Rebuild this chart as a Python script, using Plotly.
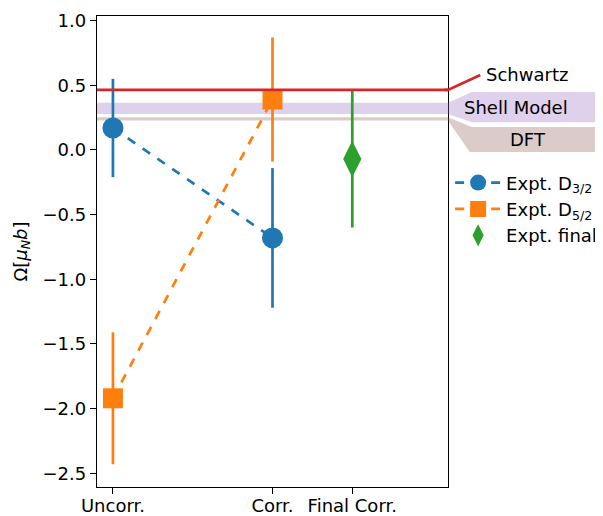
import plotly.graph_objects as go

# ---- data ----
categories = ["Uncorr.", "Corr.", "Final Corr."]
cat_pos = [0, 1, 1.5]

d32_x = [0, 1]
d32_y = [0.17, -0.68]
d32_err = [0.38, 0.54]

d52_x = [0, 1]
d52_y = [-1.92, 0.39]
d52_err = [0.51, 0.48]

final_x = [1.5]
final_y = [-0.07]
final_err = [0.53]

schwartz = 0.464
shell_band = [0.278, 0.366]
dft_band = [0.227, 0.253]

BLUE = "#1f77b4"; ORANGE = "#ff7f0e"; GREEN = "#2ca02c"; RED = "#d62728"
PURPLE_A = "rgba(148,103,189,0.3)"
BROWN_A = "rgba(140,86,75,0.3)"
FONT = "DejaVu Sans"
FS = 18
LW = 2.7

fig = go.Figure()

fig.add_trace(go.Scatter(
    x=d32_x, y=d32_y, mode="lines+markers", name="Expt. D<sub>3/2</sub>",
    line=dict(color=BLUE, width=LW, dash="dash"),
    marker=dict(symbol="circle", size=21, color=BLUE),
    error_y=dict(type="data", array=d32_err, color=BLUE, thickness=LW, width=0)))
fig.add_trace(go.Scatter(
    x=d52_x, y=d52_y, mode="lines+markers", name="Expt. D<sub>5/2</sub>",
    line=dict(color=ORANGE, width=LW, dash="dash"),
    marker=dict(symbol="square", size=20, color=ORANGE),
    error_y=dict(type="data", array=d52_err, color=ORANGE, thickness=LW, width=0)))
fig.add_trace(go.Scatter(
    x=final_x, y=final_y, mode="markers", name="Expt. final",
    marker=dict(symbol="diamond-tall", size=26, color=GREEN),
    error_y=dict(type="data", array=final_err, color=GREEN, thickness=LW, width=0)))

# bands and line inside plot
fig.add_shape(type="rect", xref="paper", yref="y", x0=0, x1=1,
              y0=shell_band[0], y1=shell_band[1], fillcolor=PURPLE_A, line_width=0, layer="below")
fig.add_shape(type="rect", xref="paper", yref="y", x0=0, x1=1,
              y0=dft_band[0], y1=dft_band[1], fillcolor=BROWN_A, line_width=0, layer="below")
fig.add_shape(type="line", xref="paper", yref="y", x0=0, x1=1,
              y0=schwartz, y1=schwartz, line=dict(color=RED, width=LW))

# outside labels (paper x, data y)
xe = 1.0
xb = 1.068
xr = 1.5
fig.add_shape(type="path", xref="paper", yref="y",
              path=f"M 0.99,{schwartz} L {xe},{schwartz} L 1.092,0.58",
              line=dict(color=RED, width=LW))
fig.add_shape(type="path", xref="paper", yref="y",
              path=f"M {xe},{shell_band[1]} L {xb},0.449 L {xr},0.449 L {xr},0.215 L {xb},0.215 L {xe},{shell_band[0]} Z",
              fillcolor=PURPLE_A, line_width=0)
fig.add_shape(type="path", xref="paper", yref="y",
              path=f"M {xe},{dft_band[1]} L {xb},0.178 L {xr},0.178 L {xr},-0.015 L 1.062,-0.015 L {xe},{dft_band[0]} Z",
              fillcolor=BROWN_A, line_width=0)

fig.add_annotation(xref="paper", yref="y", x=1.103, y=0.585, text="Schwartz",
                   showarrow=False, xanchor="left", font=dict(size=FS, color="black", family=FONT))
fig.add_annotation(xref="paper", yref="y", x=1.195, y=0.325, text="Shell Model",
                   showarrow=False, xanchor="center", font=dict(size=FS, color="black", family=FONT))
fig.add_annotation(xref="paper", yref="y", x=1.228, y=0.08, text="DFT",
                   showarrow=False, xanchor="center", font=dict(size=FS, color="black", family=FONT))

axis_common = dict(showline=True, linecolor="black", linewidth=1.4, mirror=True,
                   ticks="outside", ticklen=6, tickwidth=1.4, tickcolor="black", showgrid=False,
                   zeroline=False, automargin=False,
                   tickfont=dict(size=FS, color="black", family=FONT))

# page body has an 8px margin; size the figure so it fills the 603x516 window
fig.update_layout(
    width=595, height=508,
    margin=dict(l=89, r=155, t=8, b=29, autoexpand=False),
    paper_bgcolor="white", plot_bgcolor="white",
    font=dict(family=FONT, size=FS, color="black"),
    xaxis=dict(range=[-0.1, 2.1], tickmode="array", tickvals=cat_pos, ticktext=categories,
               ticklabelstandoff=-4, **axis_common),
    yaxis=dict(range=[-2.606, 1.036], tickmode="array",
               tickvals=[-2.5, -2.0, -1.5, -1.0, -0.5, 0.0, 0.5, 1.0],
               ticktext=["−2.5", "−2.0", "−1.5", "−1.0", "−0.5", "0.0", "0.5", "1.0"],
               title=dict(text="Ω[<i>μ<sub>N</sub>b</i>]", font=dict(size=FS), standoff=10),
               **axis_common),
    legend=dict(x=1.006, y=0.685, xanchor="left", yanchor="top", bgcolor="rgba(0,0,0,0)",
                font=dict(size=FS, family=FONT), tracegroupgap=0, itemwidth=46),
    showlegend=True,
)

fig.write_html("out.html")
